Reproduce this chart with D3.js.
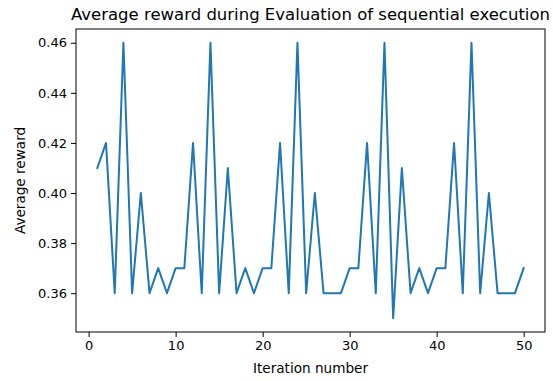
<!DOCTYPE html>
<html>
<head>
<meta charset="utf-8">
<script src="https://cdn.jsdelivr.net/npm/d3@7"></script>
<style>
  html, body { margin: 0; padding: 0; background: #fff; }
  svg { display: block; font-family: "DejaVu Sans", sans-serif; }
</style>
</head>
<body>
<svg id="chart" width="553" height="381"></svg>
<script>
// Average reward per evaluation iteration
const iterations = d3.range(1, 51);
const rewards = [
  0.41, 0.42, 0.36, 0.46, 0.36, 0.40, 0.36, 0.37, 0.36, 0.37,
  0.37, 0.42, 0.36, 0.46, 0.36, 0.41, 0.36, 0.37, 0.36, 0.37,
  0.37, 0.42, 0.36, 0.46, 0.36, 0.40, 0.36, 0.36, 0.36, 0.37,
  0.37, 0.42, 0.36, 0.46, 0.35, 0.41, 0.36, 0.37, 0.36, 0.37,
  0.37, 0.42, 0.36, 0.46, 0.36, 0.40, 0.36, 0.36, 0.36, 0.37
];
const xTicks = [0, 10, 20, 30, 40, 50];
const yTicks = [0.36, 0.38, 0.40, 0.42, 0.44, 0.46];

const titleText = "Average reward during Evaluation of sequential execution";
const xLabel = "Iteration number";
const yLabel = "Average reward";

const svg = d3.select("#chart");
const plot = { left: 76, right: 545, top: 29, bottom: 332 };

// 5% margins around the data range, like matplotlib autoscaling
const xMin = d3.min(iterations), xMax = d3.max(iterations);
const xPad = (xMax - xMin) * 0.05;
const yMin = d3.min(rewards), yMax = d3.max(rewards);
const yPad = (yMax - yMin) * 0.05;

const x = d3.scaleLinear()
  .domain([xMin - xPad, xMax + xPad])
  .range([plot.left, plot.right]);
const y = d3.scaleLinear()
  .domain([yMin - yPad, yMax + yPad])
  .range([plot.bottom, plot.top]);

// data line
const line = d3.line()
  .x((d, i) => x(iterations[i]))
  .y(d => y(d));

svg.append("path")
  .datum(rewards)
  .attr("fill", "none")
  .attr("stroke", "#1f77b4")
  .attr("stroke-width", 2)
  .attr("stroke-linejoin", "round")
  .attr("stroke-linecap", "square")
  .attr("d", line);

// axes
const xAxis = svg.append("g")
  .attr("transform", `translate(0,${plot.bottom})`)
  .call(d3.axisBottom(x).tickValues(xTicks).tickFormat(d3.format("d"))
    .tickSizeOuter(0).tickSize(5).tickPadding(4));
const yAxis = svg.append("g")
  .attr("transform", `translate(${plot.left},0)`)
  .call(d3.axisLeft(y).tickValues(yTicks).tickFormat(d3.format(".2f"))
    .tickSizeOuter(0).tickSize(5).tickPadding(4));

[xAxis, yAxis].forEach(g => {
  g.select(".domain").remove();
  g.selectAll(".tick line").attr("stroke", "#000").attr("stroke-width", 1);
  g.selectAll(".tick text")
    .attr("fill", "#000")
    .style("font-size", "13px")
    .style("font-family", "DejaVu Sans, sans-serif");
});

// frame
svg.append("rect")
  .attr("x", plot.left)
  .attr("y", plot.top)
  .attr("width", plot.right - plot.left)
  .attr("height", plot.bottom - plot.top)
  .attr("fill", "none")
  .attr("stroke", "#000")
  .attr("stroke-width", 1);

// title and axis labels
svg.append("text")
  .attr("x", (plot.left + plot.right) / 2)
  .attr("y", 20)
  .attr("text-anchor", "middle")
  .attr("fill", "#000")
  .style("font-size", "16.5px")
  .text(titleText);

svg.append("text")
  .attr("x", (plot.left + plot.right) / 2)
  .attr("y", 373)
  .attr("text-anchor", "middle")
  .attr("fill", "#000")
  .style("font-size", "13.6px")
  .text(xLabel);

svg.append("text")
  .attr("transform", `translate(24.5,${(plot.top + plot.bottom) / 2}) rotate(-90)`)
  .attr("text-anchor", "middle")
  .attr("fill", "#000")
  .style("font-size", "13.6px")
  .text(yLabel);
</script>
</body>
</html>
